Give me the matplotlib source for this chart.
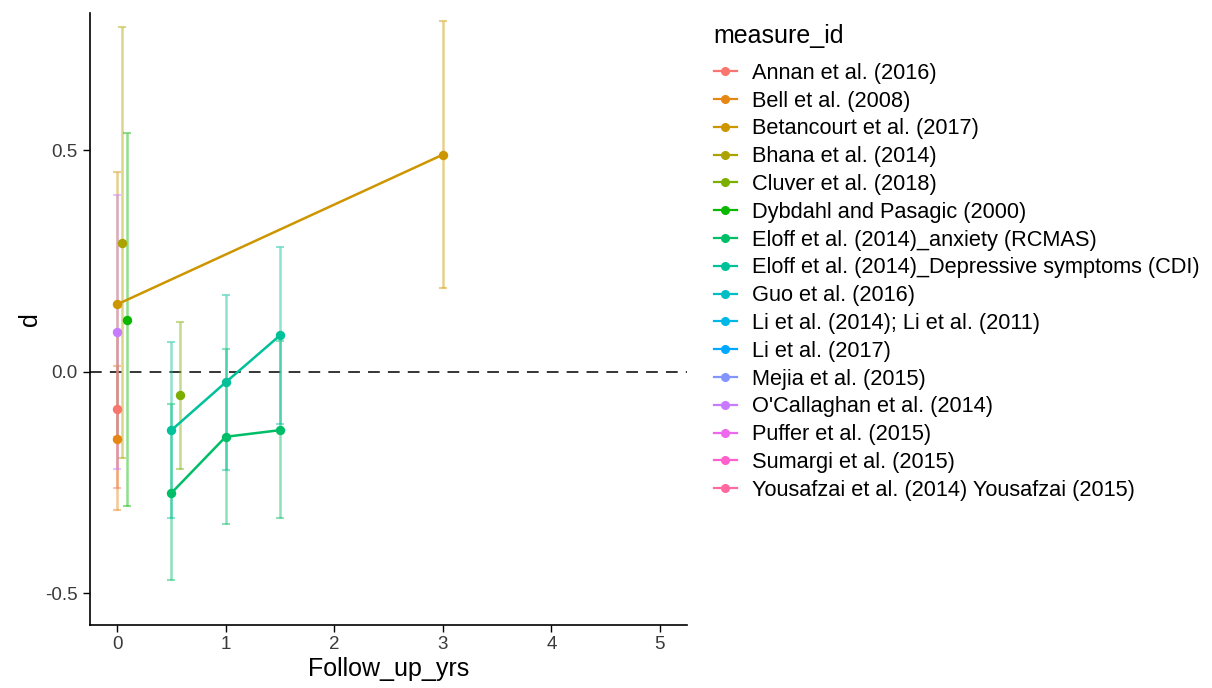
import numpy as np
import matplotlib
matplotlib.use("Agg")
import matplotlib.pyplot as plt
from matplotlib.lines import Line2D

plt.rcParams['font.family'] = ['Liberation Sans', 'DejaVu Sans']

# ---------------- data ----------------
studies = [
    "Annan et al. (2016)",
    "Bell et al. (2008)",
    "Betancourt et al. (2017)",
    "Bhana et al. (2014)",
    "Cluver et al. (2018)",
    "Dybdahl and Pasagic (2000)",
    "Eloff et al. (2014)_anxiety (RCMAS)",
    "Eloff et al. (2014)_Depressive symptoms (CDI)",
    "Guo et al. (2016)",
    "Li et al. (2014); Li et al. (2011)",
    "Li et al. (2017)",
    "Mejia et al. (2015)",
    "O'Callaghan et al. (2014)",
    "Puffer et al. (2015)",
    "Sumargi et al. (2015)",
    "Yousafzai et al. (2014) Yousafzai (2015)",
]

follow_up = {
    "Annan et al. (2016)": [0.0],
    "Bell et al. (2008)": [0.0],
    "Betancourt et al. (2017)": [0.0, 3.0],
    "Bhana et al. (2014)": [0.042],
    "Cluver et al. (2018)": [0.583],
    "Dybdahl and Pasagic (2000)": [0.087],
    "Eloff et al. (2014)_anxiety (RCMAS)": [0.5, 1.0, 1.5],
    "Eloff et al. (2014)_Depressive symptoms (CDI)": [0.5, 1.0, 1.5],
    "O'Callaghan et al. (2014)": [0.0],
}
d_vals = {
    "Annan et al. (2016)": [-0.085],
    "Bell et al. (2008)": [-0.151],
    "Betancourt et al. (2017)": [0.152, 0.490],
    "Bhana et al. (2014)": [0.290],
    "Cluver et al. (2018)": [-0.053],
    "Dybdahl and Pasagic (2000)": [0.117],
    "Eloff et al. (2014)_anxiety (RCMAS)": [-0.274, -0.147, -0.132],
    "Eloff et al. (2014)_Depressive symptoms (CDI)": [-0.132, -0.024, 0.082],
    "O'Callaghan et al. (2014)": [0.089],
}
ci_low = {
    "Annan et al. (2016)": [-0.263],
    "Bell et al. (2008)": [-0.313],
    "Betancourt et al. (2017)": [-0.148, 0.188],
    "Bhana et al. (2014)": [-0.196],
    "Cluver et al. (2018)": [-0.219],
    "Dybdahl and Pasagic (2000)": [-0.303],
    "Eloff et al. (2014)_anxiety (RCMAS)": [-0.471, -0.345, -0.330],
    "Eloff et al. (2014)_Depressive symptoms (CDI)": [-0.331, -0.222, -0.117],
    "O'Callaghan et al. (2014)": [-0.220],
}
ci_high = {
    "Annan et al. (2016)": [0.093],
    "Bell et al. (2008)": [0.012],
    "Betancourt et al. (2017)": [0.451, 0.792],
    "Bhana et al. (2014)": [0.779],
    "Cluver et al. (2018)": [0.113],
    "Dybdahl and Pasagic (2000)": [0.538],
    "Eloff et al. (2014)_anxiety (RCMAS)": [-0.073, 0.051, 0.070],
    "Eloff et al. (2014)_Depressive symptoms (CDI)": [0.066, 0.174, 0.281],
    "O'Callaghan et al. (2014)": [0.400],
}

x_ticks = [0, 1, 2, 3, 4, 5]
y_ticks = [-0.5, 0.0, 0.5]
y_tick_labels = ["-0.5", "0.0", "0.5"]


# ---------------- ggplot hue palette ----------------
def hcl_to_rgb(h, c=100.0, l=65.0):
    Xn, Yn, Zn = 95.047, 100.0, 108.883
    un = 4 * Xn / (Xn + 15 * Yn + 3 * Zn)
    vn = 9 * Yn / (Xn + 15 * Yn + 3 * Zn)
    hr = np.deg2rad(h)
    u = c * np.cos(hr)
    v = c * np.sin(hr)
    Y = Yn * ((l + 16) / 116) ** 3
    up = u / (13 * l) + un
    vp = v / (13 * l) + vn
    X = 9.0 * Y * up / (4 * vp)
    Z = -X / 3 - 5 * Y + 3 * Y / vp
    xyz = np.array([X, Y, Z]) / 100.0
    M = np.array([[3.240479, -1.537150, -0.498535],
                  [-0.969256, 1.875992, 0.041556],
                  [0.055648, -0.204043, 1.057311]])
    rgb = M @ xyz
    out = []
    for ch in rgb:
        ch = 12.92 * ch if ch <= 0.0031308 else 1.055 * ch ** (1 / 2.4) - 0.055
        out.append(min(max(ch, 0.0), 1.0))
    return tuple(out)


n = len(studies)
hues = np.linspace(15, 375, n + 1)[:-1]
colors = {s: hcl_to_rgb(h) for s, h in zip(studies, hues)}

# ---------------- figure ----------------
fig = plt.figure(figsize=(12.12, 6.88), dpi=100)
ax = fig.add_axes([90 / 1212, 63 / 688, 597 / 1212, 612 / 688])

ax.axhline(0, color="black", linestyle=(0, (6.5, 4.5)), linewidth=1.3,
           alpha=0.85, zorder=1)

for s in studies:
    if s not in follow_up:
        continue
    x = np.array(follow_up[s])
    y = np.array(d_vals[s])
    lo = np.array(ci_low[s])
    hi = np.array(ci_high[s])
    col = colors[s]
    ax.errorbar(x, y, yerr=[y - lo, hi - y], fmt="none", ecolor=col, alpha=0.45,
                elinewidth=1.8, capsize=3, capthick=1.5, zorder=2)
    if len(x) > 1:
        ax.plot(x, y, color=col, linewidth=1.8, zorder=3)
    ax.scatter(x, y, s=46, color=col, zorder=4, linewidths=0)

ax.set_xlim(-0.25, 5.25)
ax.set_ylim(-0.572, 0.810)
ax.set_xticks(x_ticks)
ax.set_xticklabels([str(t) for t in x_ticks])
ax.set_yticks(y_ticks)
ax.set_yticklabels(y_tick_labels)

for sp in ["top", "right"]:
    ax.spines[sp].set_visible(False)
for sp in ["left", "bottom"]:
    ax.spines[sp].set_linewidth(1.2)
    ax.spines[sp].set_color("black")
ax.tick_params(axis="both", length=5, width=1.0, color="black",
               labelsize=13.5, labelcolor="#3a3a3a", pad=4)
ax.tick_params(axis="x", pad=3)

ax.set_xlabel("Follow_up_yrs", fontsize=18, color="black", labelpad=3)
ax.set_ylabel("d", fontsize=18, color="black", labelpad=2.4)

handles = [Line2D([0], [0], color=colors[s], marker="o", markersize=5.5,
                  linewidth=1.6) for s in studies]
leg = fig.legend(handles, studies, title="measure_id", loc="upper left",
                 bbox_to_anchor=(705 / 1212, 1 - 15 / 688), frameon=False,
                 fontsize=15.7, title_fontsize=18, handlelength=1.05,
                 handletextpad=0.69, labelspacing=0.312, borderaxespad=0)
leg._legend_box.align = "left"
leg._legend_box.sep = 0.312 * 15.7 + 6.0

fig.savefig("out.png", dpi=100, facecolor="white")
